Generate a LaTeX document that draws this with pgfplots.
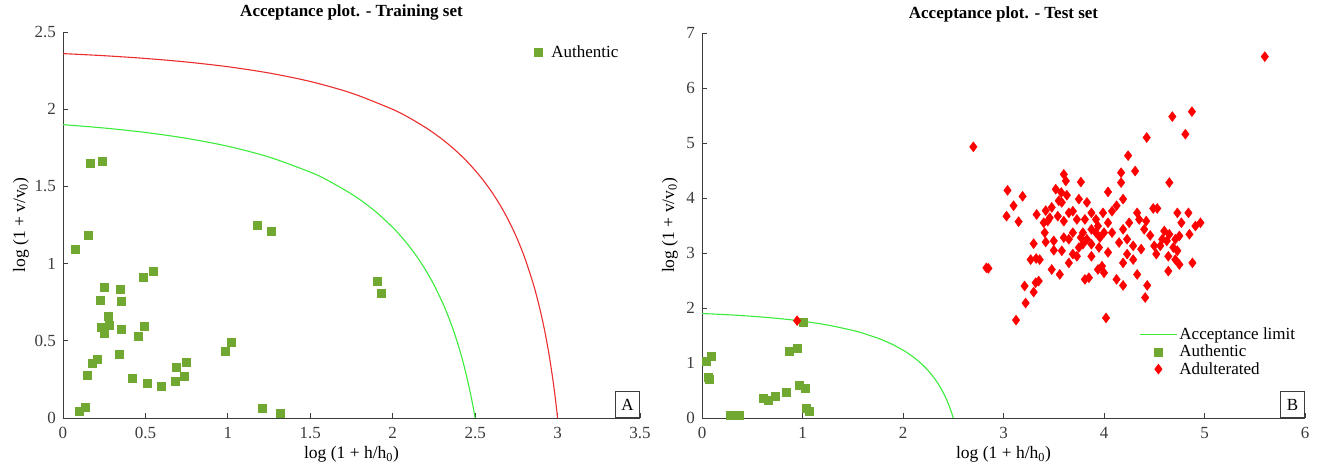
\documentclass[border=0pt]{standalone}
\usepackage{fontspec}
\setmainfont{Liberation Serif}
\usepackage{pgfplots}
\pgfplotsset{compat=1.18}
\definecolor{authgreen}{RGB}{112,168,50}
\definecolor{limgreen}{RGB}{60,235,60}
\definecolor{limred}{RGB}{235,45,45}
\definecolor{axgray}{RGB}{60,60,60}
\pgfplotsset{mystyle/.style={
  scale only axis, clip=false,
  axis lines=left, axis line style={-, axgray, line width=0.8pt},
  tick align=inside, major tick length=5pt, tick style={axgray, line width=0.8pt},
  /pgf/number format/assume math mode=true,
  ticklabel style={font=\fontsize{17}{19}\selectfont, text=axgray},
  xticklabel style={anchor=base, yshift=-21pt, inner sep=0pt},
  yticklabel style={anchor=east, xshift=-7pt, inner sep=0pt},
  title style={font=\bfseries\fontsize{17}{20}\selectfont, at={(axis description cs:0.5,1)}, anchor=base, yshift=9pt, inner sep=0pt},
  xlabel style={font=\fontsize{17.5}{20}\selectfont, at={(axis description cs:0.5,0)}, anchor=base, yshift=-41pt, inner sep=0pt},
  ylabel style={font=\fontsize{17.5}{20}\selectfont, inner sep=0pt},
  legend style={draw=none, fill=none, font=\fontsize{17}{19}\selectfont, row sep=0pt},
  legend cell align=left,
}}
\begin{document}
\begin{tikzpicture}
\path[use as bounding box] (-63pt,-50pt) rectangle (1255pt,418pt);
\begin{axis}[mystyle,
  width=577pt, height=386pt,
  xmin=0, xmax=3.5, ymin=0, ymax=2.5,
  xtick={0,0.5,...,3.5}, ytick={0,0.5,...,2.5},
  title={Acceptance plot. - Training set},
  xlabel={log (1 + h/h\textsubscript{0})},
  ylabel={log (1 + v/v\textsubscript{0})},
  ylabel style={at={(axis description cs:0,0.5)}, anchor=south, yshift=34pt},
  legend style={at={(axis description cs:0.811,0.975)}, anchor=north west},
  legend image code/.code={\node[draw=none, fill=none, inner sep=0pt, minimum width=11pt, minimum height=2pt] at (5.5pt,0pt) {}; \draw[mark repeat=2,mark phase=2,#1] plot coordinates {(5.5pt,0pt)(5.5pt,0pt)(5.5pt,0pt)};},
]
\addplot[limred, line width=1.1pt, smooth, forget plot] coordinates {
(0,2.36)(0.25,2.3464)(0.5,2.3287)(0.75,2.3055)(1.0,2.2751)(1.25,2.2343)(1.5,2.1795)(1.75,2.1043)(2.0,1.9988)(2.1,1.9445)(2.2,1.8807)(2.25,1.8447)(2.3,1.8052)(2.35,1.7620)(2.4,1.7146)(2.45,1.6620)(2.5,1.6037)(2.55,1.5385)(2.6,1.4651)(2.65,1.3815)(2.7,1.2854)(2.75,1.1733)(2.8,1.0402)(2.85,0.8780)(2.875,0.7821)(2.9,0.6732)(2.925,0.5477)(2.95,0.4002)(2.975,0.2225)(2.99,0.0955)(3.0,0)};
\addplot[limgreen, line width=1.1pt, smooth, forget plot] coordinates {
(0,1.9)(0.25,1.878)(0.5,1.8494)(0.75,1.8112)(1.0,1.7600)(1.25,1.6900)(1.5,1.5924)(1.6,1.5425)(1.75,1.4512)(1.8,1.4155)(1.9,1.3335)(2.0,1.2345)(2.05,1.1770)(2.1,1.1124)(2.15,1.0400)(2.2,0.9573)(2.25,0.8630)(2.3,0.7523)(2.325,0.6904)(2.35,0.6215)(2.375,0.5469)(2.4,0.4627)(2.425,0.3699)(2.45,0.2630)(2.475,0.1411)(2.49,0.0598)(2.5,0)};
\addplot[only marks, mark=square*, mark size=4pt, color=authgreen] table {
0.162 1.651
0.237 1.662
0.150 1.187
0.077 1.093
0.249 0.849
0.348 0.836
0.354 0.754
0.227 0.761
0.273 0.659
0.279 0.603
0.233 0.586
0.249 0.552
0.354 0.578
0.486 0.912
0.545 0.950
0.492 0.593
0.455 0.530
0.338 0.416
0.208 0.379
0.178 0.353
0.144 0.278
0.419 0.259
0.508 0.228
0.597 0.203
0.678 0.237
0.684 0.328
0.733 0.272
0.749 0.360
0.986 0.435
1.020 0.491
1.180 1.250
1.263 1.207
1.209 0.065
1.316 0.032
0.097 0.047
0.132 0.071
1.904 0.886
1.928 0.808
};
\addlegendentry{Authentic}
\node[draw=axgray, line width=0.8pt, fill=white, anchor=south east, minimum width=24pt, minimum height=26pt, inner sep=0pt, font=\fontsize{17}{19}\selectfont] at (rel axis cs:1,0) {A};
\end{axis}
\begin{axis}[mystyle, xshift=639pt,
  width=603pt, height=385pt,
  xmin=0, xmax=6, ymin=0, ymax=7,
  xtick={0,1,...,6}, ytick={0,1,...,7},
  title={Acceptance plot. - Test set},
  xlabel={log (1 + h/h\textsubscript{0})},
  ylabel={log (1 + v/v\textsubscript{0})},
  ylabel style={at={(axis description cs:0,0.5)}, anchor=south, yshift=24pt},
  legend style={at={(axis description cs:0.72,0.245)}, anchor=north west},
  legend image code/.code={\draw[mark repeat=2,mark phase=2,#1] plot coordinates {(0pt,0pt)(18.5pt,0pt)(37pt,0pt)};},
]
\addplot[limgreen, line width=1.1pt, smooth] coordinates {
(0,1.9)(0.25,1.878)(0.5,1.8494)(0.75,1.8112)(1.0,1.7600)(1.25,1.6900)(1.5,1.5924)(1.6,1.5425)(1.75,1.4512)(1.8,1.4155)(1.9,1.3335)(2.0,1.2345)(2.05,1.1770)(2.1,1.1124)(2.15,1.0400)(2.2,0.9573)(2.25,0.8630)(2.3,0.7523)(2.325,0.6904)(2.35,0.6215)(2.375,0.5469)(2.4,0.4627)(2.425,0.3699)(2.45,0.2630)(2.475,0.1411)(2.49,0.0598)(2.5,0)};
\addlegendentry{Acceptance limit}
\addplot[only marks, mark=square*, mark size=4pt, color=authgreen] table {
0.046 1.04
0.089 1.12
0.066 0.75
0.069 0.70
0.28 0.05
0.31 0.05
0.34 0.05
0.37 0.05
0.605 0.355
0.658 0.33
0.724 0.405
0.839 0.46
0.868 1.22
0.944 1.26
0.967 0.59
1.023 0.536
1.007 1.75
1.04 0.175
1.066 0.125
};
\addlegendentry{Authentic}
\addplot[only marks, mark=diamond*, mark size=5pt, color=red] table {
0.946 1.77
2.70 4.93
5.60 6.57
4.68 5.48
4.875 5.57
4.81 5.16
4.425 5.10
4.24 4.77
4.31 4.49
4.17 4.46
4.17 4.28
4.65 4.28
4.04 4.11
3.04 4.14
3.19 4.03
3.10 3.86
3.03 3.67
3.15 3.57
3.33 3.70
3.42 3.77
3.48 3.83
3.52 4.16
3.60 4.43
3.62 4.31
3.575 4.10
3.77 4.29
3.75 3.98
3.83 3.92
3.58 3.92
3.65 3.73
3.69 3.76
3.99 3.73
4.08 3.76
4.125 3.86
4.19 3.98
4.33 3.73
4.35 3.61
4.42 3.58
4.49 3.81
4.53 3.81
4.73 3.73
4.84 3.73
4.77 3.55
4.96 3.55
4.91 3.49
4.85 3.34
4.75 3.31
4.71 3.25
4.60 3.40
4.65 3.34
4.625 3.22
4.56 3.13
4.50 3.13
4.52 2.98
4.69 3.10
4.73 3.04
4.64 2.94
4.71 2.88
4.75 2.79
4.88 2.82
4.64 2.67
4.40 3.43
4.37 3.07
4.29 2.88
4.33 2.61
4.43 2.41
4.41 2.19
4.19 2.41
4.125 2.52
4.19 2.82
4.23 2.98
4.23 3.25
4.15 3.19
4.19 3.43
4.25 3.55
4.04 3.55
4.04 3.01
4.00 3.37
3.94 3.49
3.92 3.37
3.875 3.43
3.96 3.28
3.95 3.10
3.875 3.16
3.83 3.25
3.79 3.37
3.81 3.61
3.73 3.61
3.77 3.28
3.79 3.16
3.875 2.94
3.98 2.76
3.94 2.70
4.00 2.64
4.02 1.82
3.85 2.55
3.81 2.52
3.73 2.94
3.69 2.98
3.65 2.82
3.56 2.61
3.48 2.70
3.42 3.20
3.50 3.05
3.50 3.22
3.60 3.28
3.65 3.25
3.69 3.37
3.60 3.58
3.41 3.37
3.40 3.55
3.30 3.17
3.27 2.88
3.325 2.90
3.36 2.88
3.35 2.49
3.32 2.46
3.30 2.29
3.21 2.40
3.22 2.09
3.125 1.78
2.83 2.73
2.85 2.72
3.54 3.67
3.46 3.64
3.75 3.10
3.92 3.61
4.29 3.13
4.58 3.25
3.875 3.73
3.58 3.04
4.08 3.37
3.55 3.95
3.63 4.05
3.44 3.58
4.46 3.32
};
\addlegendentry{Adulterated}
\node[draw=axgray, line width=0.8pt, fill=white, anchor=south east, minimum width=24pt, minimum height=26pt, inner sep=0pt, font=\fontsize{17}{19}\selectfont] at (rel axis cs:1,0) {B};
\end{axis}
\end{tikzpicture}
\end{document}
